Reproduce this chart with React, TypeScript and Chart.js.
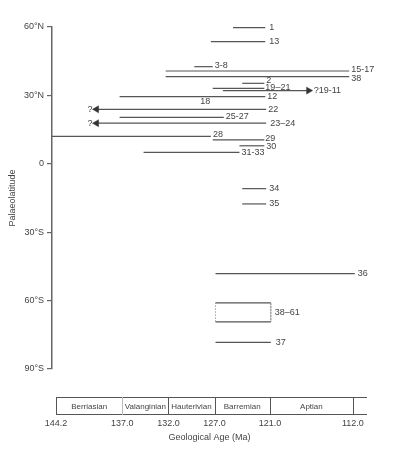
import React, { useEffect, useRef } from "react";
import { Chart, registerables } from "chart.js";

Chart.register(...registerables);

// ---- Data ----
// Ranges: [older age (Ma), younger age (Ma), palaeolatitude (deg, + = N)]
const rangeLabels = ["1", "13", "3-8", "15-17", "38", "2", "19–21", "?19-11", "12", "22", "25-27", "23–24", "28", "29", "30", "31-33", "34", "35", "36", "37"];
const rangeOlder = [125.0, 127.4, 129.2, 132.3, 132.3, 124.0, 127.2, 126.1, 137.3, 139.8, 137.3, 139.8, 144.63, 127.2, 124.3, 134.7, 124.0, 124.0, 126.9, 126.9];
const rangeYounger = [121.5, 121.5, 127.2, 112.4, 112.4, 121.6, 121.6, 116.8, 121.5, 121.4, 126.0, 121.4, 127.4, 121.6, 121.6, 124.3, 121.4, 121.4, 111.8, 120.9];
const rangeLat = [59.7, 53.6, 42.6, 40.7, 38.2, 35.3, 33.1, 32.1, 29.5, 23.9, 20.4, 17.8, 12.0, 10.5, 7.9, 5.0, -10.9, -17.6, -48.2, -78.3];
// open-ended ranges (arrow direction): "" none, "older" arrow to the left, "younger" arrow to the right
const rangeArrow = ["", "", "", "", "", "", "", "younger", "", "older", "", "older", "", "", "", "", "", "", "", ""];

// Box of localities 38–61
const boxLabel = "38–61";
const boxAges = [126.9, 120.9];
const boxLats = [-61.0, -69.3];

// Axis ticks
const latTicks = [60, 30, 0, -30, -60, -90];
const latTickLabels = ["60°N", "30°N", "0", "30°S", "60°S", "90°S"];
const ageTicks = [144.2, 137.0, 132.0, 127.0, 121.0, 112.0];

// Stages (boundaries in Ma)
const stageNames = ["Berriasian", "Valanginian", "Hauterivian", "Barremian", "Aptian"];
const stageBounds = [144.2, 137.0, 132.0, 127.0, 121.0, 112.0];

// ---- Styles (label offsets) ----
const labelOffsets: Record<string, [number, number]> = {
  "1": [4, 0], "13": [4, 0], "3-8": [2, -1], "15-17": [2, -1], "38": [2, 1.5],
  "2": [2, -3], "19–21": [1, -1], "?19-11": [5, 0], "12": [2, 0], "22": [2, 0],
  "25-27": [2, -1], "23–24": [4, 0], "28": [2, -2], "29": [1, -1], "30": [2, 0.5],
  "31-33": [2, 0.5], "34": [3, 0], "35": [3, 0], "36": [3, 0], "37": [5, 0],
};

const LINE = "#555";
const TEXT = "#444";
const FONT = "Liberation Sans, Arial, sans-serif";

export default function App() {
  const ref = useRef<HTMLCanvasElement>(null);

  useEffect(() => {
    if (!ref.current) return;

    const datasets: any[] = rangeLabels.map((lab, i) => {
      const arrow = rangeArrow[i];
      return {
        label: lab,
        data: [
          { x: rangeOlder[i], y: rangeLat[i] },
          { x: rangeYounger[i], y: rangeLat[i] },
        ],
        showLine: true,
        borderColor: LINE,
        borderWidth: 1.2,
        pointStyle: "triangle",
        pointRadius: [arrow === "older" ? 4 : 0, arrow === "younger" ? 4 : 0],
        pointRotation: [-90, 90],
        pointBackgroundColor: "#333",
        pointBorderColor: "#333",
        pointBorderWidth: 0.5,
      };
    });

    datasets.push({
      label: boxLabel,
      data: [
        { x: boxAges[0], y: boxLats[0] },
        { x: boxAges[1], y: boxLats[0] },
        { x: boxAges[1], y: boxLats[1] },
        { x: boxAges[0], y: boxLats[1] },
        { x: boxAges[0], y: boxLats[0] },
      ],
      showLine: true,
      borderColor: LINE,
      borderWidth: 1.2,
      pointRadius: 0,
      segment: {
        borderDash: (c: any) => (c.p0.parsed.x === c.p1.parsed.x ? [1.5, 1.5] : undefined),
        borderWidth: (c: any) => (c.p0.parsed.x === c.p1.parsed.x ? 0.8 : 1.2),
        borderColor: (c: any) => (c.p0.parsed.x === c.p1.parsed.x ? "#888" : LINE),
      },
    });

    const labelPlugin = {
      id: "rangeLabels",
      afterDatasetsDraw(chart: any) {
        const { ctx, scales } = chart;
        const xs = scales.x;
        const ys = scales.y;
        ctx.save();
        ctx.font = `9px ${FONT}`;
        ctx.fillStyle = TEXT;
        ctx.textBaseline = "middle";
        rangeLabels.forEach((lab, i) => {
          const off = labelOffsets[lab] || [3, 0];
          const px = xs.getPixelForValue(rangeYounger[i]);
          const py = ys.getPixelForValue(rangeLat[i]);
          ctx.textAlign = "left";
          ctx.fillText(lab, px + off[0], py + off[1]);
          if (rangeArrow[i] === "older") {
            ctx.textAlign = "right";
            ctx.fillText("?", xs.getPixelForValue(rangeOlder[i]) - 4, py);
          }
          if (lab === "12") {
            // locality 18 shares this range
            ctx.textAlign = "center";
            ctx.fillText("18", xs.getPixelForValue(128.0), py + 4.5);
          }
        });
        // box label
        ctx.textAlign = "left";
        ctx.fillText(
          boxLabel,
          xs.getPixelForValue(boxAges[1]) + 4,
          ys.getPixelForValue((boxLats[0] + boxLats[1]) / 2)
        );
        ctx.restore();
      },
    };

    const stagePlugin = {
      id: "stages",
      afterDraw(chart: any) {
        const { ctx, chartArea, scales } = chart;
        const xs = scales.x;
        const top = chartArea.bottom + 28;
        const bot = chartArea.bottom + 45;
        const x0 = Math.round(xs.getPixelForValue(stageBounds[0])) + 0.5;
        const xEnd = chartArea.right;
        ctx.save();
        ctx.strokeStyle = LINE;
        ctx.lineWidth = 1;
        ctx.beginPath();
        ctx.moveTo(x0, top + 0.5);
        ctx.lineTo(xEnd, top + 0.5);
        ctx.moveTo(x0, bot + 0.5);
        ctx.lineTo(xEnd, bot + 0.5);
        ctx.stroke();
        stageBounds.forEach((b, i) => {
          const px = Math.round(xs.getPixelForValue(b)) + 0.5;
          ctx.strokeStyle = i === 1 ? "#bbb" : LINE;
          ctx.beginPath();
          ctx.moveTo(px, top);
          ctx.lineTo(px, bot + 1);
          ctx.stroke();
        });
        ctx.font = `8px ${FONT}`;
        ctx.fillStyle = TEXT;
        ctx.textAlign = "center";
        ctx.textBaseline = "middle";
        stageNames.forEach((n, i) => {
          const a = xs.getPixelForValue(stageBounds[i]);
          const b = xs.getPixelForValue(stageBounds[i + 1]);
          ctx.fillText(n, (a + b) / 2, (top + bot) / 2 + 1);
        });
        ctx.restore();
      },
    };

    const chart = new Chart(ref.current, {
      type: "scatter",
      data: { datasets },
      plugins: [labelPlugin, stagePlugin],
      options: {
        animation: false,
        responsive: false,
        devicePixelRatio: 1,
        layout: { padding: { top: 27, right: 32, left: 0, bottom: 0 } },
        plugins: { legend: { display: false }, tooltip: { enabled: false } },
        scales: {
          x: {
            type: "linear",
            reverse: true,
            min: 110.47,
            max: 144.63,
            grid: { display: false },
            border: { display: false },
            afterBuildTicks: (s: any) => {
              s.ticks = ageTicks.map((v) => ({ value: v }));
            },
            afterFit: (s: any) => {
              s.height = 84;
              s.paddingLeft = 0;
              s.paddingRight = 0;
            },
            ticks: {
              autoSkip: false,
              maxRotation: 0,
              padding: 41,
              color: TEXT,
              font: { family: FONT, size: 9 },
              callback: (v: any) => Number(v).toFixed(1),
            },
            title: {
              display: true,
              text: "Geological Age (Ma)",
              color: TEXT,
              font: { family: FONT, size: 9 },
              padding: { top: 0, bottom: 10 },
            },
          },
          y: {
            type: "linear",
            min: -90,
            max: 60,
            grid: {
              drawOnChartArea: false,
              drawTicks: true,
              tickLength: 5,
              color: "#666",
              lineWidth: 1.2,
            },
            border: { display: true, color: "#666", width: 1.5 },
            afterBuildTicks: (s: any) => {
              s.ticks = latTicks.map((v) => ({ value: v }));
            },
            afterFit: (s: any) => {
              s.width = 52;
              s.paddingTop = 0;
              s.paddingBottom = 0;
            },
            ticks: {
              padding: 3,
              color: TEXT,
              font: { family: FONT, size: 9 },
              callback: (v: any) => {
                const i = latTicks.indexOf(Number(v));
                return i >= 0 ? latTickLabels[i] : "";
              },
            },
            title: {
              display: true,
              text: "Palaeolatitude",
              color: TEXT,
              font: { family: FONT, size: 9 },
              padding: { top: 7.6, bottom: 0 },
            },
          },
        },
      },
    } as any);

    return () => chart.destroy();
  }, []);

  return (
    <div style={{ position: "absolute", left: 0, top: 0, width: 399, height: 453, background: "#fff" }}>
      <canvas ref={ref} width={399} height={453} style={{ width: 399, height: 453, display: "block" }} />
    </div>
  );
}
